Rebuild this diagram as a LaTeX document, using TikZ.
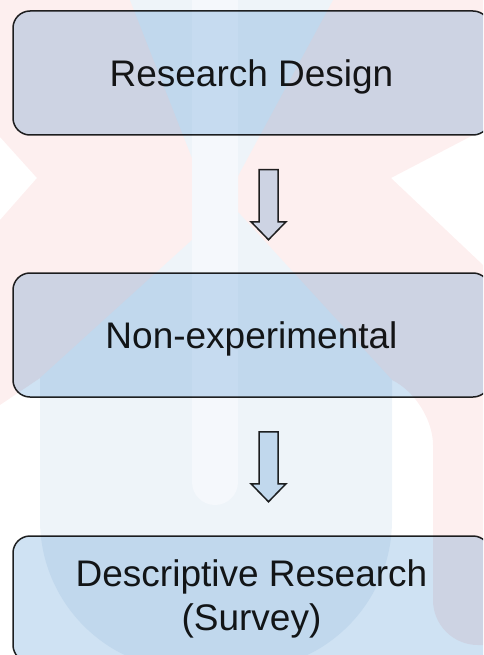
\documentclass[tikz,border=0pt]{standalone}
\usepackage{fontspec}
\setmainfont{Liberation Sans}
\usetikzlibrary{positioning}

\definecolor{boxfill}{HTML}{CFE2F3}
\definecolor{edge}{HTML}{222222}
\definecolor{wmpink}{HTML}{FDEFEF}
\definecolor{wmblue}{HTML}{EEF4F9}
\definecolor{wmstripe}{HTML}{F5F8FC}

\tikzset{
  stage/.style={draw=edge, line width=1.5pt, fill=boxfill, rounded corners=17pt,
    minimum width=477pt, minimum height=124pt, align=center, text=black!90,
    font=\fontsize{37pt}{44pt}\selectfont},
  oneline/.style={text height=27pt, text depth=0pt},
  blockarrow/.style={draw=edge, line width=1.5pt, fill=boxfill, line join=miter}
}

\begin{document}
\begin{tikzpicture}[x=1pt, y=-1pt]
    \useasboundingbox (0,0) rectangle (483,655);
    \clip (0,0) rectangle (483,655);
    % watermark behind the chart
    \fill[wmpink] (0,0) -- (483,0) -- (483,130) -- (391,178) -- (483,265) -- (483,645)
        [rounded corners=45pt] -- (433,645) -- (433,400) [sharp corners] -- (392,380)
        -- (40,378) -- (0,405) -- (0,220) -- (37,178) -- (0,137) -- cycle;
    \fill[wmblue] (130,0) -- (333,0) -- (238,176) -- (192,158) -- cycle;
    \fill[wmblue] (192,240) -- (238,212) -- (392,380)
        [rounded corners=150pt] -- (392,670) -- (40,670) [sharp corners] -- (40,378) -- cycle;
    \fill[wmstripe, rounded corners=23pt] (192,-30) rectangle (238,505);

    \begin{scope}[blend mode=multiply]
    \node[stage, oneline] (design) at (251.5,73) {Research Design};
    \node[stage, oneline] (nonexp) at (251.5,335) {Non-experimental};
    \node[stage, minimum height=126pt] (survey) at (251.5,599)
        {Descriptive Research\\(Survey)};

    \coordinate[below right=34pt and 17pt of design.south] (arrA);
    \coordinate[below right=34pt and 17pt of nonexp.south] (arrB);
    \foreach \a in {arrA,arrB}
        \draw[blockarrow] (\a) ++(-9.5,0) -- ++(19,0) -- ++(0,52) -- ++(8,0)
            -- ++(-17.5,18) -- ++(-17.5,-18) -- ++(8,0) -- cycle;
    \end{scope}
\end{tikzpicture}
\end{document}
